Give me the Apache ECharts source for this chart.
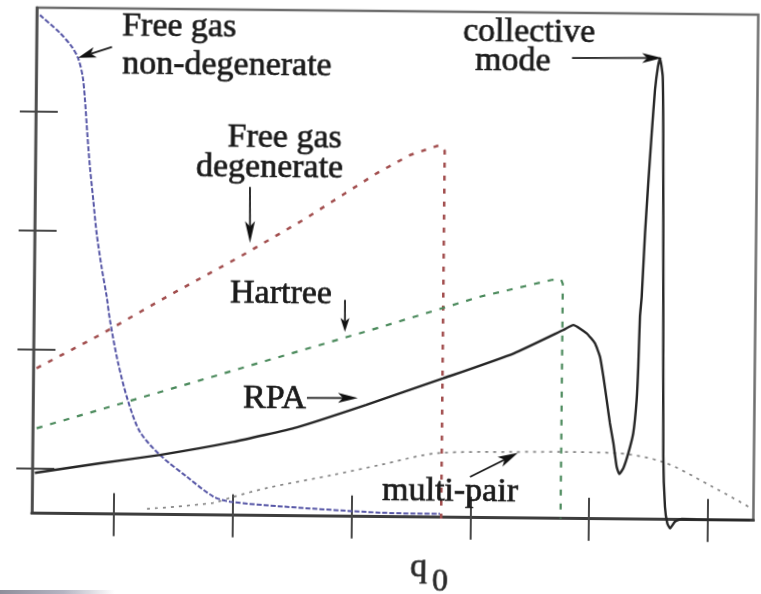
<!DOCTYPE html>
<html>
<head>
<meta charset="utf-8">
<script src="https://cdn.jsdelivr.net/npm/echarts@6/dist/echarts.min.js"></script>
<style>
  html, body { margin: 0; padding: 0; background: #fff; overflow: hidden; }
  #chart { width: 761px; height: 594px; transform: rotate(0.56deg); transform-origin: 50% 50%; }
  #edge { position: absolute; left: 0; top: 590px; width: 115px; height: 4px;
          background: linear-gradient(to right, #8e8e9a, #b4b4c2 55%, rgba(255,255,255,0)); }
</style>
</head>
<body>
<div id="chart"></div>
<div id="edge"></div>
<script>
// Tick positions along q0 and along the response axis (arbitrary units)
const xTicks = [1, 2, 3, 4, 5, 6];
const yTicks = [1, 2, 3, 4];

// Response curves, [q0, value]
const freeGasNonDegenerate = [
  [0.337, 4.807], [0.507, 4.658], [0.607, 4.544], [0.662, 4.447], [0.702, 4.292],
  [0.723, 4.097], [0.745, 3.818], [0.770, 3.537], [0.801, 3.257], [0.832, 2.978],
  [0.876, 2.697], [0.922, 2.445], [0.951, 2.250], [1.024, 1.887], [1.112, 1.565],
  [1.213, 1.313], [1.383, 1.120], [1.610, 0.940], [1.837, 0.774], [1.978, 0.733],
  [2.426, 0.696], [3.245, 0.653], [3.744, 0.647]
];
const freeGasDegenerate = [
  [0.338, 1.839], [0.869, 2.124], [1.427, 2.450], [2.040, 2.792], [2.571, 3.107],
  [3.185, 3.505], [3.464, 3.661], [3.715, 3.748], [3.755, 3.700], [3.755, 0.560]
];
const hartree = [
  [0.343, 1.334], [1.714, 1.750], [3.225, 2.211], [4.064, 2.476], [4.666, 2.623],
  [4.745, 2.628], [4.760, 2.590], [4.760, 0.619]
];
const rpa = [
  [0.332, 0.959], [0.879, 1.045], [1.383, 1.120], [1.996, 1.235], [2.535, 1.364],
  [3.113, 1.557], [3.762, 1.787], [4.354, 2.003], [4.767, 2.203], [4.852, 2.246],
  [4.965, 2.177], [5.035, 2.094], [5.079, 1.981], [5.109, 1.814], [5.139, 1.618],
  [5.168, 1.424], [5.199, 1.255], [5.228, 1.059], [5.251, 0.997], [5.284, 1.045],
  [5.325, 1.172], [5.365, 1.341], [5.391, 1.621], [5.402, 1.901], [5.412, 2.321],
  [5.425, 2.489], [5.448, 3.025], [5.471, 3.445], [5.496, 3.866], [5.520, 4.228],
  [5.543, 4.424], [5.560, 4.494], [5.584, 4.340], [5.593, 3.866], [5.607, 2.491],
  [5.620, 1.147], [5.638, 0.726], [5.659, 0.587], [5.682, 0.545], [5.724, 0.602],
  [5.780, 0.625], [6.044, 0.620], [6.355, 0.620]
];
const multiPair = [
  [1.279, 0.666], [1.833, 0.721], [2.001, 0.773], [2.286, 0.851], [2.840, 0.966],
  [3.236, 1.054], [3.740, 1.160], [4.346, 1.174], [4.767, 1.178], [5.196, 1.174],
  [5.618, 1.102], [6.040, 0.896], [6.354, 0.727]
];

// Axis extent
const X_MIN = 0.31, X_MAX = 6.383;
const Y_MIN = 0.619, Y_MAX = 4.869;

// Annotation layout (anchor in axis units: text start/end x, baseline y)
const notes = [
  { text: 'Free gas', at: [1.029, 4.621], align: 'left' },
  { text: 'non-degenerate', at: [1.033, 4.302], align: 'left' },
  { text: 'Free gas', at: [2.888, 3.697], align: 'right' },
  { text: 'degenerate', at: [2.902, 3.445], align: 'right' },
  { text: 'Hartree', at: [1.960, 2.386], align: 'left' },
  { text: 'RPA', at: [2.078, 1.505], align: 'left' },
  { text: 'multi-pair', at: [3.256, 0.743], align: 'left' },
  { text: 'collective', at: [3.900, 4.607], align: 'left' },
  { text: 'mode', at: [4.003, 4.364], align: 'left' }
];
const pointers = [
  { from: [0.946, 4.545], to: [0.661, 4.450], head: 18, half: 5.5 },
  { from: [2.119, 3.379], to: [2.124, 2.908], head: 22, half: 5 },
  { from: [2.928, 2.438], to: [2.930, 2.169], head: 14, half: 4.5 },
  { from: [2.616, 1.611], to: [3.045, 1.615], head: 20, half: 5 },
  { from: [3.995, 0.961], to: [4.396, 1.166], head: 20, half: 5.5 },
  { from: [4.819, 4.490], to: [5.577, 4.497], head: 20, half: 5 }
];

const SERIF = "'Liberation Serif', 'Times New Roman', serif";
const INK = '#1b1b1b';

const chart = echarts.init(document.getElementById('chart'), null, { renderer: 'canvas' });

function valueAxis(min, max, position, ticks, inside, len, line) {
  return {
    type: 'value', min: min, max: max, position: position,
    axisLine: line ? { show: true, lineStyle: line } : { show: false },
    axisTick: { show: true, inside: inside, length: len, customValues: ticks,
                lineStyle: { color: '#474747', width: 2 } },
    axisLabel: { show: false },
    splitLine: { show: false }
  };
}

function curve(name, data, color, width, dash, smooth) {
  return {
    name: name, type: 'line', data: data, symbol: 'none', showSymbol: false,
    smooth: smooth, clip: false, animation: false,
    lineStyle: { color: color, width: width, type: dash, cap: 'butt' }
  };
}

chart.setOption({
  animation: false,
  backgroundColor: '#ffffff',
  grid: { left: 34, right: 5.5, top: 11, bottom: 77.3, show: true,
          borderColor: '#6e6e6e', borderWidth: 2.5, backgroundColor: 'transparent' },
  xAxis: [
    valueAxis(X_MIN, X_MAX, 'bottom', xTicks, true, 21, { color: '#3d3d3d', width: 3 }),
    valueAxis(X_MIN, X_MAX, 'bottom', xTicks, false, 22, null)
  ],
  yAxis: [
    valueAxis(Y_MIN, Y_MAX, 'left', yTicks, true, 22, { color: '#4a4a4a', width: 2.5 }),
    valueAxis(Y_MIN, Y_MAX, 'left', yTicks, false, 16, null)
  ],
  series: [
    curve('Free gas non-degenerate', freeGasNonDegenerate, '#5656a6', 2, [5, 2], 0.3),
    curve('Free gas degenerate', freeGasDegenerate, '#a24e4e', 2.5, [5, 8], false),
    curve('Hartree', hartree, '#4b8a5c', 2.2, [6, 8], false),
    curve('multi-pair', multiPair, '#858585', 1.7, [3, 5], 0.3),
    curve('RPA', rpa, '#262626', 2.4, 'solid', 0.15)
  ]
});

function toPx(p) { return chart.convertToPixel({ seriesIndex: 0 }, p); }

function label(x, y, text, size, align, color) {
  return {
    type: 'text', x: x, y: y, z: 50,
    style: { text: text, fontSize: size, fontFamily: SERIF, fill: color,
             stroke: color, lineWidth: 0.7, align: align, verticalAlign: 'middle' }
  };
}

const graphics = [];
notes.forEach(function (n) {
  const p = toPx(n.at);
  graphics.push(label(p[0], p[1] - 11, n.text, 34, n.align, INK));
});
pointers.forEach(function (a) {
  const t = toPx(a.from), h = toPx(a.to);
  const dx = h[0] - t[0], dy = h[1] - t[1], len = Math.hypot(dx, dy);
  const ux = dx / len, uy = dy / len, nx = -uy, ny = ux;
  const bx = h[0] - ux * a.head, by = h[1] - uy * a.head;
  const nx0 = h[0] - ux * a.head * 0.75, ny0 = h[1] - uy * a.head * 0.75;
  graphics.push({
    type: 'line', z: 50,
    shape: { x1: t[0], y1: t[1], x2: nx0, y2: ny0 },
    style: { stroke: INK, lineWidth: 1.8 }
  });
  graphics.push({
    type: 'polygon', z: 50,
    shape: { points: [[h[0], h[1]], [bx + nx * a.half, by + ny * a.half], [nx0, ny0],
                      [bx - nx * a.half, by - ny * a.half]] },
    style: { fill: '#111' }
  });
});

// Axis title q0 with subscript
const qAt = toPx([3.497, 0.107]);
const subAt = toPx([3.684, -0.018]);
graphics.push(label(qAt[0], qAt[1] - 11, 'q', 34, 'left', '#2a2a2a'));
graphics.push(label(subAt[0], subAt[1] - 11, '0', 32, 'left', '#2a2a2a'));

chart.setOption({ graphic: graphics });
</script>
</body>
</html>
